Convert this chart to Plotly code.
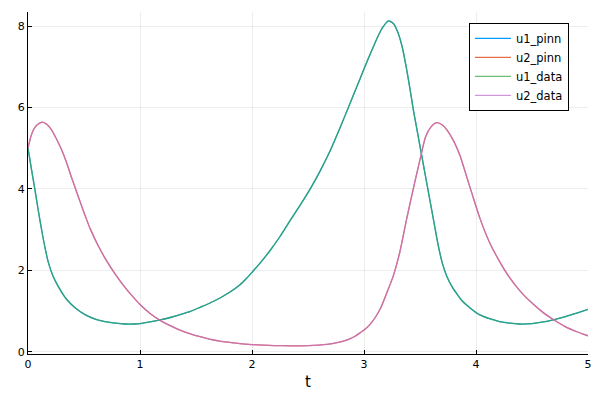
import plotly.graph_objects as go

# u1 (prey)
t_u1 = [0, 0.03, 0.0625, 0.09, 0.122, 0.15, 0.181, 0.22, 0.271, 0.32, 0.36, 0.42, 0.509,
        0.60, 0.6875, 0.78, 0.866, 0.95, 1.0, 1.09, 1.18, 1.27, 1.357, 1.45, 1.536, 1.62,
        1.714, 1.80, 1.89, 1.95, 2.0, 2.07, 2.16, 2.25, 2.34, 2.43, 2.52, 2.61, 2.70,
        2.786, 2.875, 2.964, 3.03, 3.08, 3.13, 3.17, 3.217, 3.26, 3.30, 3.34, 3.38, 3.42,
        3.44, 3.48, 3.52, 3.57, 3.62, 3.66, 3.70, 3.74, 3.79, 3.84, 3.88, 3.95, 4.03,
        4.12, 4.21, 4.30, 4.39, 4.50, 4.60, 4.70, 4.80, 4.90, 5.0]
u1 = [5.0, 4.5, 3.97, 3.5, 2.99, 2.58, 2.2, 1.88, 1.60, 1.38, 1.24, 1.08, 0.91,
      0.80, 0.74, 0.70, 0.68, 0.68, 0.69, 0.73, 0.78, 0.84, 0.91, 0.99, 1.09, 1.19,
      1.32, 1.46, 1.64, 1.80, 1.95, 2.17, 2.48, 2.83, 3.22, 3.60, 4.0, 4.45, 4.95,
      5.50, 6.10, 6.70, 7.15, 7.47, 7.78, 7.98, 8.13, 8.07, 7.86, 7.50, 6.95, 6.30,
      5.95, 5.35, 4.75, 4.0, 3.25, 2.65, 2.17, 1.85, 1.58, 1.38, 1.24, 1.07, 0.91,
      0.81, 0.74, 0.70, 0.68, 0.69, 0.73, 0.79, 0.86, 0.95, 1.04]

# u2 (predator)
t_u2 = [0, 0.025, 0.05, 0.08, 0.128, 0.17, 0.21, 0.25, 0.30, 0.35, 0.39, 0.44, 0.48,
        0.52, 0.554, 0.62, 0.6875, 0.78, 0.866, 0.93, 1.0, 1.09, 1.18, 1.27, 1.357, 1.45,
        1.536, 1.62, 1.714, 1.80, 1.89, 2.0, 2.1, 2.2, 2.34, 2.5, 2.67, 2.76, 2.85, 2.92,
        2.964, 3.0, 3.05, 3.10, 3.15, 3.20, 3.26, 3.32, 3.38, 3.44, 3.50, 3.55, 3.60,
        3.65, 3.70, 3.74, 3.80, 3.857, 3.91, 3.96, 4.036, 4.125, 4.21, 4.30, 4.40, 4.51,
        4.60, 4.69, 4.80, 4.90, 5.0]
u2 = [5.0, 5.28, 5.46, 5.57, 5.64, 5.58, 5.45, 5.25, 4.96, 4.60, 4.27, 3.88, 3.57,
      3.27, 3.03, 2.64, 2.30, 1.90, 1.58, 1.37, 1.16, 0.94, 0.77, 0.64, 0.53, 0.44,
      0.37, 0.31, 0.26, 0.23, 0.20, 0.175, 0.16, 0.15, 0.145, 0.15, 0.18, 0.22, 0.29,
      0.38, 0.46, 0.53, 0.66, 0.84, 1.08, 1.42, 1.85, 2.45, 3.25, 4.0, 4.72, 5.28,
      5.53, 5.63, 5.57, 5.45, 5.18, 4.82, 4.36, 3.92, 3.27, 2.66, 2.22, 1.82, 1.47,
      1.17, 0.96, 0.79, 0.61, 0.49, 0.39]

x_ticks = [0, 1, 2, 3, 4, 5]
y_ticks = [0, 2, 4, 6, 8]

fig = go.Figure()
series = [
    ("u1_pinn", t_u1, u1, "#009AFA", 1.0),
    ("u2_pinn", t_u2, u2, "#E36F47", 1.0),
    ("u1_data", t_u1, u1, "#3EA44E", 0.75),
    ("u2_data", t_u2, u2, "#C271D2", 0.75),
]
for name, t, v, c, op in series:
    fig.add_trace(go.Scatter(x=t, y=v, name=name, mode="lines",
                             line=dict(color=c, width=1.3, shape="spline", smoothing=0.6),
                             opacity=op))

# page body has an 8px margin, so the figure is sized 592x392
fig.update_layout(
    width=592, height=392,
    margin=dict(l=20, r=12, t=4, b=46, autoexpand=False),
    plot_bgcolor="white", paper_bgcolor="white",
    font=dict(family="DejaVu Sans", size=11, color="black"),
    showlegend=True,
    legend=dict(x=0.966, y=0.968, xanchor="right", yanchor="top",
                bordercolor="black", borderwidth=1, bgcolor="white",
                font=dict(size=11.5), tracegroupgap=0, itemwidth=36),
)
fig.update_xaxes(range=[0, 5], tickvals=x_ticks, showline=True, linecolor="black",
                 linewidth=1, ticks="inside", ticklen=4, tickcolor="black",
                 showgrid=True, gridcolor="rgba(0,0,0,0.07)", gridwidth=0.6,
                 zeroline=False, automargin=False,
                 title=dict(text="t", font=dict(size=15), standoff=6))
fig.update_yaxes(range=[-0.057, 8.347], tickvals=y_ticks, showline=True, linecolor="black",
                 linewidth=1, ticks="inside", ticklen=4, tickcolor="black",
                 showgrid=True, gridcolor="rgba(0,0,0,0.07)", gridwidth=0.6,
                 zeroline=False, automargin=False)

fig.write_html("out.html")
